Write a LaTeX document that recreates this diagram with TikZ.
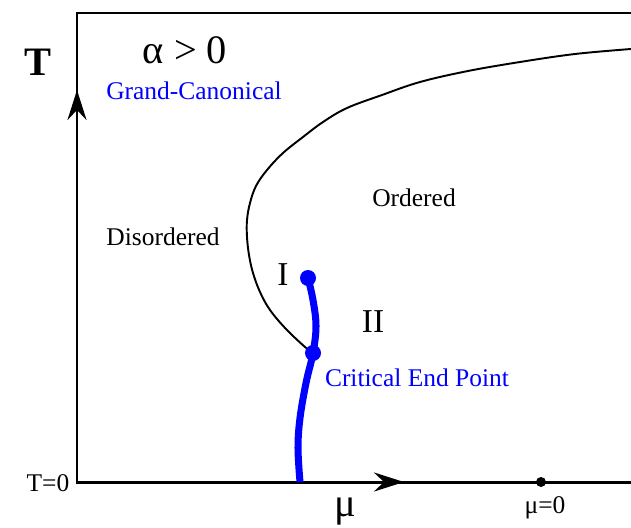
\documentclass[tikz,border=0pt]{standalone}
\usepackage{fontspec}
\setmainfont{Liberation Serif}
\usetikzlibrary{arrows.meta}
\definecolor{cepblue}{HTML}{0000FF}

\begin{document}
\begin{tikzpicture}[x=0.02cm,y=-0.02cm,
      every node/.style={font=\fontsize{14.5}{17}\selectfont,inner sep=0pt},
      axis/.style={line width=1.7pt},
      arr/.style={-{Stealth[length=6mm,width=3.8mm,inset=2mm]},line width=1.7pt},
      phase/.style={line width=1.1pt},
      cepline/.style={cepblue,line width=4pt},
      dot/.style={circle,fill=cepblue,minimum size=3.2mm},
      bigtxt/.style={font=\fontsize{23}{27}\selectfont},
      bluetxt/.style={text=cepblue},
  ]
    \useasboundingbox (0,0) rectangle (631,527);

    % frame and axes
    \coordinate (o) at (77,482);
    \coordinate (ytop) at (77,13);
    \coordinate (tr) at (631,13);
    \coordinate (xend) at (631,482);
    \draw[axis] (xend) -- (o) -- (ytop) -- (tr);
    \coordinate (ya) at (77,124);
    \coordinate (yb) at (77,90);
    \draw[arr] (ya) -- (yb);
    \coordinate (xa) at (368,482);
    \coordinate (xb) at (404,482);
    \draw[arr] (xa) -- (xb);

    % phase boundary
    \coordinate (top) at (308,278);
    \coordinate (cep) at (313,353);
    \coordinate (base) at (300,482);
    \draw[phase] plot[smooth,tension=0.6] coordinates {(631,49) (575,54) (520,62)
      (468,71) (420,82) (382,95) (347,108) (323,122) (303,137) (283,153)
      (267,170) (256,186) (250,203) (247,220) (247,237) (249,255) (253,273)
      (260,292) (270,310) (286,329) (305,347) (cep)};
    \draw[cepline] plot[smooth,tension=0.6] coordinates {(top) (313,300)
      (316,326) (cep) (306,383) (300,418) (298,448) (base)};
    \node[dot] (topdot) at (top) {};
    \node[dot] (cepdot) at (cep) {};
    \node[circle,fill=black,minimum size=2mm] (mu0) at (541,482) {};

    % labels
    \node[bigtxt,font=\fontsize{23}{27}\selectfont\bfseries] (tlab) at (38,62) {T};
    \node[bigtxt] (alpha) at (185,50) {α > 0};
    \node[bluetxt] (gc) at (194,91) {Grand-Canonical};
    \node (dis) at (163,237) {Disordered};
    \node (ord) at (414,198) {Ordered};
    \node[font=\fontsize{19}{22}\selectfont] (one) at (283,275) {I};
    \node[font=\fontsize{19}{22}\selectfont] (two) at (373,322) {II};
    \node[bluetxt] (ceplab) at (417,378) {Critical End Point};
    \node (t0) at (48,483) {T=0};
    \node[bigtxt] (mulab) at (345,512) {μ};
    \node (mu0lab) at (545,508) {μ=0};
\end{tikzpicture}
\end{document}
